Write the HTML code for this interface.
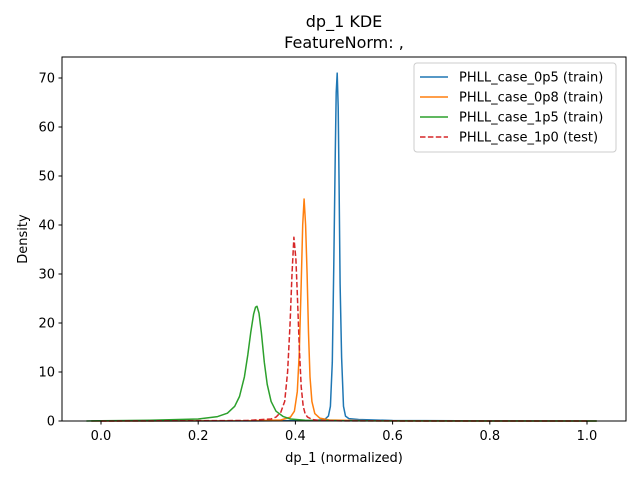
<!DOCTYPE html>
<html><head><meta charset="utf-8"><style>
body{margin:0;background:#fff;font-family:"Liberation Sans","DejaVu Sans",sans-serif}
svg text{font-family:"DejaVu Sans","Liberation Sans",sans-serif}
</style></head><body>
<svg id="c" width="640" height="480" viewBox="0 0 640 480">
<rect width="640" height="480" fill="#fff"/>
<text x="344" y="27" font-size="16" text-anchor="middle">dp_1 KDE</text>
<text x="344" y="48" font-size="16" text-anchor="middle">FeatureNorm: ,</text>
<g id="plot"></g>
<rect x="62" y="57" width="564" height="364" fill="none" stroke="#000" stroke-width="1"/>
<g id="xt"></g><g id="yt"></g>
<text x="344" y="462" font-size="13" text-anchor="middle">dp_1 (normalized)</text>
<text transform="translate(27,239) rotate(-90)" font-size="13" text-anchor="middle">Density</text>
<g id="legend">
<rect x="414" y="63" width="202" height="89" rx="3" fill="#fff" fill-opacity="0.8" stroke="#ccc"/>
</g>
</svg>
<script>
const xTicks=[0,0.2,0.4,0.6,0.8,1.0];
const xTickLabels=["0.0","0.2","0.4","0.6","0.8","1.0"];
const yTicks=[0,10,20,30,40,50,60,70];
const seriesNames=["PHLL_case_0p5 (train)","PHLL_case_0p8 (train)","PHLL_case_1p5 (train)","PHLL_case_1p0 (test)"];
const seriesColors=["#1f77b4","#ff7f0e","#2ca02c","#d62728"];
const blueX=[-0.02,0.3,0.44,0.46,0.468,0.472,0.476,0.479,0.482,0.484,0.486,0.488,0.49,0.492,0.495,0.499,0.503,0.51,0.53,0.6,0.8,1.02];
const blueY=[0,0.02,0.1,0.3,1,3,12,32,55,67,71,64,48,28,13,3,1,0.5,0.3,0.1,0.02,0];
const orangeX=[-0.02,0.3,0.37,0.39,0.398,0.404,0.408,0.412,0.415,0.418,0.421,0.424,0.427,0.43,0.434,0.44,0.45,0.47,0.55,0.8,1.02];
const orangeY=[0,0.05,0.2,0.8,2,6,14,28,40,45.3,40,30,18,9,4,1.5,0.6,0.2,0.05,0.01,0];
const greenX=[-0.03,0,0.1,0.2,0.24,0.26,0.275,0.285,0.295,0.302,0.308,0.314,0.318,0.321,0.325,0.33,0.336,0.342,0.35,0.36,0.375,0.39,0.42,0.5,0.7,1.02];
const greenY=[0,0.05,0.15,0.4,0.9,1.6,3,5,9,13.5,18,21.8,23.2,23.4,22,18,12,7.5,4,2,0.9,0.4,0.15,0.05,0.01,0];
const redX=[0,0.3,0.35,0.36,0.37,0.378,0.384,0.389,0.393,0.397,0.401,0.404,0.408,0.412,0.416,0.42,0.425,0.435,0.45,0.5,0.8,1.0];
const redY=[0,0.1,0.4,0.8,1.8,4,10,20,30,37.5,33,26,15,7,3,1.5,0.8,0.3,0.1,0.03,0,0];
const seriesX=[blueX,orangeX,greenX,redX];
const seriesY=[blueY,orangeY,greenY,redY];
const NS="http://www.w3.org/2000/svg";
const sx=v=>101+v*486, sy=v=>421-v*4.9;
const plot=document.getElementById('plot');
[0,1,2,3].forEach(i=>{
  const p=document.createElementNS(NS,'path');
  p.setAttribute('d',seriesX[i].map((x,k)=>(k?'L':'M')+sx(x).toFixed(1)+','+sy(seriesY[i][k]).toFixed(1)).join(''));
  p.setAttribute('fill','none');p.setAttribute('stroke',seriesColors[i]);p.setAttribute('stroke-width','1.5');
  p.setAttribute('stroke-linejoin','round');
  if(i===3)p.setAttribute('stroke-dasharray','5.5,2.4');
  
  
  plot.appendChild(p);
});
const xt=document.getElementById('xt');
xTicks.forEach((v,i)=>{
  const l=document.createElementNS(NS,'line');
  l.setAttribute('x1',sx(v));l.setAttribute('x2',sx(v));l.setAttribute('y1',421);l.setAttribute('y2',424.5);l.setAttribute('stroke','#000');
  
  
  xt.appendChild(l);
  const t=document.createElementNS(NS,'text');
  t.setAttribute('x',sx(v));t.setAttribute('y',440);t.setAttribute('font-size','13');t.setAttribute('text-anchor','middle');
  t.textContent=xTickLabels[i];
  
  
  xt.appendChild(t);
});
const yt=document.getElementById('yt');
yTicks.forEach(v=>{
  const l=document.createElementNS(NS,'line');
  l.setAttribute('x1',58.5);l.setAttribute('x2',62);l.setAttribute('y1',sy(v));l.setAttribute('y2',sy(v));l.setAttribute('stroke','#000');
  
  
  yt.appendChild(l);
  const t=document.createElementNS(NS,'text');
  t.setAttribute('x',55);t.setAttribute('y',sy(v)+4.5);t.setAttribute('font-size','13');t.setAttribute('text-anchor','end');
  t.textContent=v;
  
  
  yt.appendChild(t);
});
const lg=document.getElementById('legend');
seriesNames.forEach((n,i)=>{
  const y=77+i*20;
  const l=document.createElementNS(NS,'line');
  l.setAttribute('x1',420);l.setAttribute('x2',448);l.setAttribute('y1',y);l.setAttribute('y2',y);
  l.setAttribute('stroke',seriesColors[i]);l.setAttribute('stroke-width','1.5');
  if(i===3)l.setAttribute('stroke-dasharray','5.5,2.4');
  
  
  lg.appendChild(l);
  const t=document.createElementNS(NS,'text');
  t.setAttribute('x',459);t.setAttribute('y',y+4.5);t.setAttribute('font-size','13');
  t.textContent=n;
  
  
  lg.appendChild(t);
});
</script>
</body></html>
